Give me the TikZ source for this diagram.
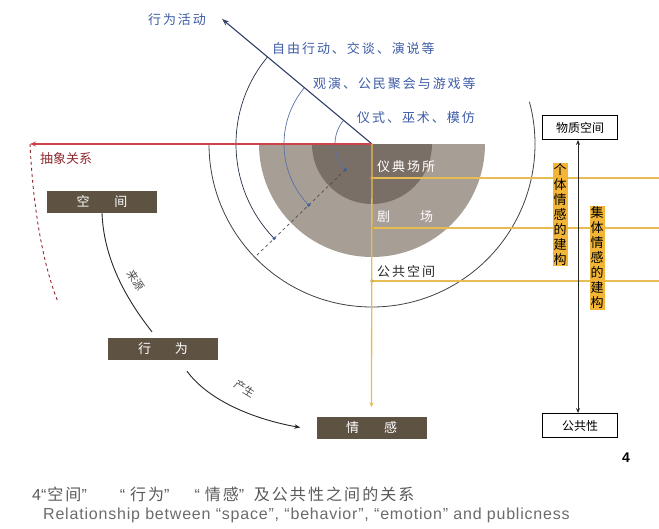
\documentclass[tikz,border=0pt]{standalone}
\usepackage{fontspec}
\setmainfont{Liberation Sans}
\newfontfamily\cjk{Noto Sans CJK SC}
\newfontfamily\cjkls[LetterSpace=15]{Noto Sans CJK SC}
\newfontfamily\capcjk[LetterSpace=13]{Noto Sans CJK SC}
\newfontfamily\caplat{Liberation Sans}
\newfontfamily\capen[LetterSpace=5]{Liberation Sans}
\usetikzlibrary{arrows.meta,calc}
\definecolor{boxbrown}{HTML}{5E5243}
\definecolor{diskmid}{HTML}{A79E96}
\definecolor{diskin}{HTML}{7A6F66}
\definecolor{lblue}{HTML}{3C5CA6}
\definecolor{navy}{HTML}{35426E}
\definecolor{arcb}{HTML}{5872A8}
\definecolor{redl}{HTML}{D0424A}
\definecolor{redd}{HTML}{8E2A2E}
\definecolor{gold}{HTML}{E8BC55}
\definecolor{hl}{HTML}{F2B535}
\definecolor{capgray}{HTML}{5A5A5A}
\tikzset{
  brownbox/.style={fill=boxbrown, text=white, minimum width=110pt, minimum height=22pt, inner sep=0pt, font=\cjk\fontsize{13}{13}\selectfont},
  whitebox/.style={draw=black, line width=0.8pt, fill=white, minimum width=75pt, minimum height=24pt, inner sep=0pt, font=\cjk\fontsize{12}{12}\selectfont},
  bluelbl/.style={text=lblue, anchor=west, inner sep=0pt, font=\cjkls\fontsize{13}{13}\selectfont},
  ringlbl/.style={anchor=west, inner sep=0pt, font=\cjkls\fontsize{13}{13}\selectfont},
  vtext/.style={fill=hl, inner sep=1pt, align=center, text width=13pt, font=\cjk\fontsize{13}{15}\selectfont},
  goldline/.style={draw=gold, line width=1.3pt},
  bluearc/.style={draw=arcb, line width=0.7pt},
  curvelbl/.style={inner sep=0pt, text=black!70, font=\cjk\fontsize{11}{11}\selectfont},
}
\begin{document}
\begin{tikzpicture}[x=1pt,y=1pt]
\useasboundingbox (0,0) rectangle (659,-528);
\coordinate (O) at (372,-144);
% disks
\fill[diskmid] (O) ++(-113,0) arc[start angle=180,end angle=360,radius=113] -- cycle;
\fill[diskin] (O) ++(-60,0) arc[start angle=180,end angle=360,radius=60] -- cycle;
% outer arc
\draw[black!75, line width=0.8pt] (O) ++(180:163) arc[start angle=180,end angle=375,radius=163];
% blue arcs
\draw[bluearc] (O) ++(140:37) arc[start angle=140,end angle=224,radius=37];
\draw[bluearc] (O) ++(140:88) arc[start angle=140,end angle=224,radius=88];
\draw[bluearc, draw=black!60!arcb] (O) ++(140:136) arc[start angle=140,end angle=224,radius=136];
% dashed diagonal
\draw[black!70, dashed, line width=0.7pt] ($(O)+(224:37)$) -- ($(O)+(224:162)$);
\foreach \r in {37,88,136} \fill[lblue] ($(O)+(224:\r)$) circle (1.7);
% behaviour arrow
\node[text=lblue, inner sep=0pt, font=\cjkls\fontsize{13}{13}\selectfont] (xwhd) at (177,-20) {行为活动};
\coordinate (xwtip) at (222,-19);
\draw[navy, line width=1.1pt, -{Stealth[length=7pt,width=5pt]}] (O) -- (xwtip);
\node[bluelbl] (l1) at (272,-49) {自由行动、交谈、演说等};
\node[bluelbl] (l2) at (313,-84) {观演、公民聚会与游戏等};
\node[bluelbl] (l3) at (357,-118) {仪式、巫术、模仿};
% red line
\coordinate (absL) at (30,-144);
\coordinate (absE) at (58,-302);
\draw[redl, line width=1.3pt, -{Stealth[length=6pt,width=5pt]}] (O) -- (absL);
\draw[redd, dashed, line width=0.9pt] (absL) .. controls (33,-205) and (42,-262) .. (absE);
\node[text=redd, anchor=west, inner sep=0pt, font=\cjk\fontsize{13}{13}\selectfont] (abs) at (40,-159) {抽象关系};
% gold lines
\coordinate (r1) at (659,-178);
\coordinate (r2) at (659,-228);
\coordinate (r3) at (659,-281);
\coordinate (p1) at (372,-178);
\coordinate (p2) at (372,-228);
\coordinate (p3) at (372,-281);
\draw[goldline] (p1) -- (r1);
\draw[goldline] (p2) -- (r2);
\draw[goldline] (p3) -- (r3);
\foreach \p in {p1,p2,p3} \fill[gold!85!black] (\p) circle (1.8);
% boxes
\node[brownbox] (kj) at (102,-202) {空\hspace{25pt}间};
\node[brownbox] (xw) at (163,-349) {行\hspace{24pt}为};
\node[brownbox] (qg) at (371.5,-427.5) {情\hspace{25pt}感};
\draw[goldline, -{Stealth[length=5pt,width=4pt]}] (O) -- ([yshift=9pt]qg.north);
% ring labels
\node[ringlbl, text=white] (rl1) at (377,-167) {仪典场所};
\node[ringlbl, text=white] (rl2) at (377,-217) {剧\hspace{30pt}场};
\node[ringlbl, text=black!85] (rl3) at (377,-272) {公共空间};
% curves
\draw[black!85, line width=0.9pt] (kj.south) .. controls +(2,-50) and +(-22,28) .. ([xshift=-11pt,yshift=6pt]xw.north);
\node[curvelbl, rotate=-57] (ly) at (136,-280) {来源};
\draw[black!85, line width=0.9pt, -{Stealth[length=6pt,width=4.5pt]}] ([xshift=24pt,yshift=-11pt]xw.south) .. controls +(22,-30) and +(-45,8) .. ([xshift=-16pt]qg.west);
\node[curvelbl, rotate=-31] (cs) at (245,-389) {产生};
% right side
\node[whitebox] (wz) at (580,-127.5) {物质空间};
\node[whitebox] (gg) at (580,-425.5) {公共性};
\draw[black!85, line width=1pt, {Stealth[length=5pt,width=4pt]}-{Stealth[length=5pt,width=4pt]}] ([xshift=-2pt]wz.south) -- ([xshift=-2pt]gg.north);
\node[vtext] (v1) at (560,-214.5) {个\\体\\情\\感\\的\\建\\构};
\node[vtext] (v2) at (597,-258) {集\\体\\情\\感\\的\\建\\构};
% captions
\node[font=\bfseries\fontsize{14}{14}\selectfont, inner sep=0pt] (num) at (626,-458) {4};
\node[anchor=west, inner sep=0pt, text=capgray, font=\capcjk\fontsize{16}{16}\selectfont] (cap1) at (32,-494) {{\caplat 4“}\hspace{1pt}空间{\caplat ”}\hspace{33pt}{\caplat “}\hspace{5pt}行为{\caplat ”}\hspace{25pt}{\caplat “}\hspace{5pt}情感{\caplat ”}\hspace{9.5pt}及公共性之间的关系};
\node[anchor=west, inner sep=0pt, text=capgray!90!white, font=\capen\fontsize{16}{16}\selectfont] (cap2) at (43,-515.5) {Relationship between “space”, “behavior”, “emotion” and publicness};
\end{tikzpicture}
\end{document}
